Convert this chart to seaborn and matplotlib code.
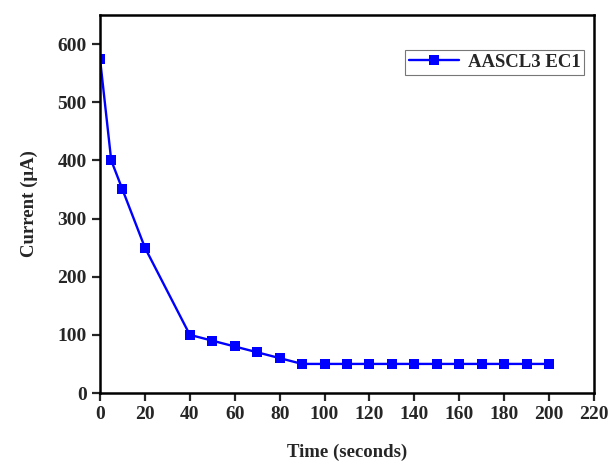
import matplotlib
matplotlib.use("Agg")
import matplotlib.pyplot as plt
import seaborn as sns
import pandas as pd

time_s = [0, 5, 10, 20, 40, 50, 60, 70, 80, 90, 100, 110, 120, 130, 140, 150, 160, 170, 180, 190, 200]
current_uA = [575, 400, 350, 250, 100, 90, 80, 70, 60, 50, 50, 50, 50, 50, 50, 50, 50, 50, 50, 50, 50]
series_name = "AASCL3 EC1"
x_ticks = list(range(0, 221, 20))
y_ticks = list(range(0, 601, 100))

sns.set_theme(style="ticks")
plt.rcParams['font.family'] = ['Liberation Serif', 'DejaVu Serif']
plt.rcParams['font.weight'] = 'bold'

df = pd.DataFrame({"Time": time_s, "Current": current_uA, "Series": series_name})

fig = plt.figure(figsize=(6.11, 4.61), dpi=100)
ax = fig.add_axes([100/611, (461-393)/461, (594-100)/611, (393-15)/461])

sns.lineplot(data=df, x="Time", y="Current", hue="Series", palette=["#0000FF"],
             marker="s", markersize=6.5, markeredgewidth=0, linewidth=1.7, ax=ax)

ax.set_xlim(0, 220)
ax.set_ylim(0, 650)
ax.set_xticks(x_ticks)
ax.set_yticks(y_ticks)
ax.tick_params(direction="out", length=5.5, width=1.6, pad=4, labelsize=14, top=False, right=False)
for lab in ax.get_xticklabels() + ax.get_yticklabels():
    lab.set_fontweight("bold")
for s in ax.spines.values():
    s.set_linewidth(1.8)
    s.set_color("black")

ax.set_xlabel("Time (seconds)", fontsize=13.5, fontweight="bold", labelpad=15)
ax.set_ylabel("Current (\u03bcA)", fontsize=13.5, fontweight="bold", labelpad=14)

leg = ax.legend(loc="upper right", bbox_to_anchor=(0.98, 0.907), frameon=True, fancybox=False,
                edgecolor="#555555", fontsize=13.5, handlelength=2.7, handletextpad=0.45,
                borderpad=0.2, borderaxespad=0)
leg.get_frame().set_linewidth(0.8)
for t in leg.get_texts():
    t.set_fontweight("bold")

fig.savefig("out.png", dpi=100, facecolor="white")
